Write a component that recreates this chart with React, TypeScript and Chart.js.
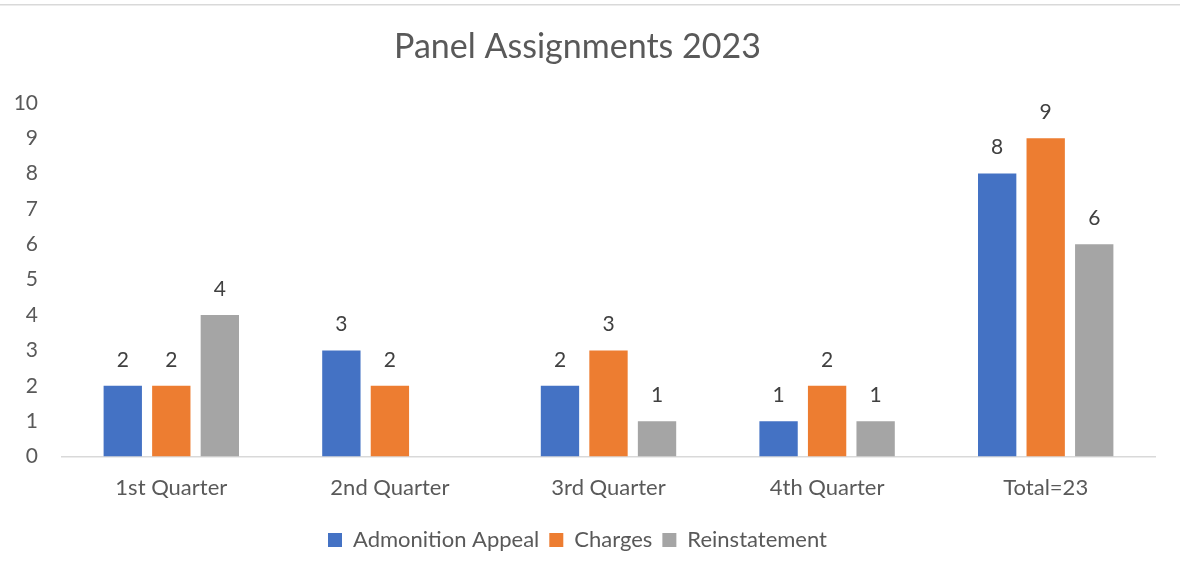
import React, { useEffect, useRef } from "react";
import { Chart, registerables } from "chart.js";

Chart.register(...registerables);

const categories = ["1st Quarter", "2nd Quarter", "3rd Quarter", "4th Quarter", "Total=23"];
const admonitionAppeal = [2, 3, 2, 1, 8];
const charges = [2, 2, 3, 2, 9];
const reinstatement = [4, 0, 1, 1, 6];
const seriesNames = ["Admonition Appeal", "Charges", "Reinstatement"];
const seriesColors = ["#4472C4", "#ED7D31", "#A5A5A5"];

const FONT = "Lato, 'Open Sans', sans-serif";

const topLinePlugin = {
  id: "topLine",
  beforeDraw(chart: any) {
    const ctx = chart.ctx;
    ctx.save();
    ctx.fillStyle = "#ffffff";
    ctx.fillRect(0, 0, chart.width, chart.height);
    ctx.fillStyle = "#D9D9D9";
    ctx.fillRect(0, 4, chart.width, 1.5);
    ctx.restore();
  },
};

const dataLabelPlugin = {
  id: "dataLabels",
  afterDatasetsDraw(chart: any) {
    const ctx = chart.ctx;
    ctx.save();
    ctx.font = `21px ${FONT}`;
    ctx.fillStyle = "#404040";
    ctx.textAlign = "center";
    ctx.textBaseline = "middle";
    chart.data.datasets.forEach((ds: any, i: number) => {
      const meta = chart.getDatasetMeta(i);
      meta.data.forEach((el: any, j: number) => {
        const v = ds.data[j];
        if (!v) return;
        ctx.fillText(String(v), el.x, el.y - 26);
      });
    });
    ctx.restore();
  },
};

export default function App() {
  const ref = useRef<HTMLCanvasElement>(null);
  useEffect(() => {
    if (!ref.current) return;
    const chart = new Chart(ref.current, {
      type: "bar",
      data: {
        labels: categories,
        datasets: [admonitionAppeal, charges, reinstatement].map((d, i) => ({
          label: seriesNames[i],
          data: d,
          backgroundColor: seriesColors[i],
          categoryPercentage: 0.666,
          barPercentage: 0.79,
        })),
      },
      options: {
        animation: false,
        responsive: false,
        layout: { padding: { left: 0, right: 25, top: 0, bottom: 18 } },
        plugins: {
          title: {
            display: true,
            text: "Panel Assignments 2023",
            color: "#595959",
            font: { family: FONT, size: 34, weight: "normal" },
            padding: { top: 27, bottom: 35 },
          },
          legend: {
            position: "bottom",
            labels: {
              color: "#595959",
              font: { family: FONT, size: 22 },
              boxWidth: 14,
              boxHeight: 14,
              padding: 10,
            },
          },
          tooltip: { enabled: false },
        },
        scales: {
          x: {
            grid: { display: false, drawTicks: false },
            border: { display: true, color: "#D9D9D9", width: 1.5 },
            ticks: { color: "#595959", font: { family: FONT, size: 22 }, padding: 18 },
          },
          y: {
            min: 0,
            max: 10,
            grid: { display: false, drawTicks: false },
            border: { display: false },
            ticks: { stepSize: 1, color: "#595959", font: { family: FONT, size: 21 }, padding: 24 },
            afterFit(scale: any) {
              scale.width = 62;
            },
          },
        },
      },
      plugins: [topLinePlugin, dataLabelPlugin],
    });
    return () => chart.destroy();
  }, []);
  return (
    <canvas
      ref={ref}
      width={1180}
      height={579}
      style={{ position: "fixed", top: 0, left: 0, width: 1180, height: 579, display: "block" }}
    />
  );
}
